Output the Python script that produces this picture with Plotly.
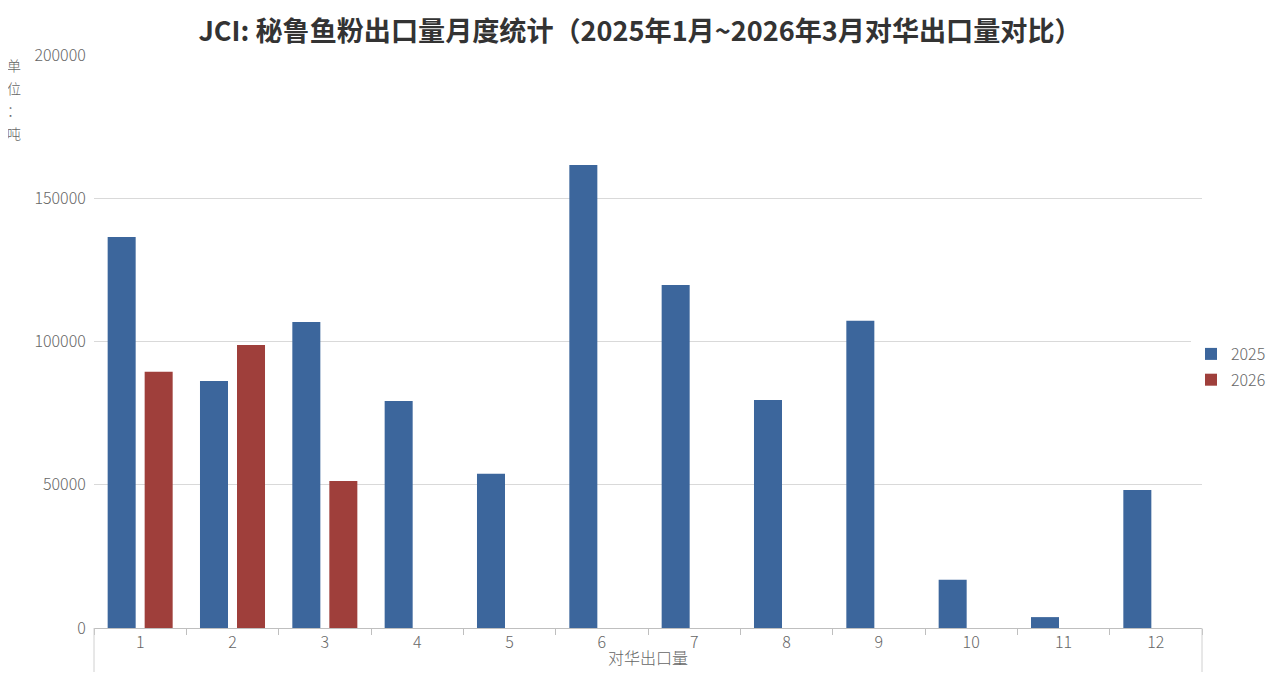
import plotly.graph_objects as go

months = ["1", "2", "3", "4", "5", "6", "7", "8", "9", "10", "11", "12"]
vals_2025 = [136500, 86200, 106800, 79200, 53800, 161600, 119700, 79600, 107200, 16800, 3800, 48200]
vals_2026 = [89400, 98800, 51300, None, None, None, None, None, None, None, None, None]
y_ticks = [0, 50000, 100000, 150000, 200000]
unit_chars = ["单", "位", "：", "吨"]

FONT = "Noto Sans CJK SC, Noto Sans, sans-serif"
W, H = 1270, 681
ML, MR, MT, MB = 86, 76, 47, 61
PW, PH = W - ML - MR, H - MT - MB
TXT = "#666666"

fig = go.Figure()
fig.add_trace(go.Bar(x=months, y=vals_2025, name="2025", legendgroup="a",
                     marker=dict(color="#3c669c", line=dict(width=0))))
fig.add_trace(go.Bar(x=months, y=vals_2026, name="2026", legendgroup="b",
                     marker=dict(color="#9f3f3b", line=dict(width=0))))

fig.update_layout(
    width=W, height=H,
    margin=dict(l=ML, r=MR, t=MT, b=MB, autoexpand=False),
    paper_bgcolor="white", plot_bgcolor="white",
    font=dict(family=FONT, color=TXT, size=16, weight=300),
    barmode="group", bargap=0.1985, bargroupgap=0.243,
    title=dict(text="<b>JCI: 秘鲁鱼粉出口量月度统计（2025年1月~2026年3月对华出口量对比）</b>",
               x=(640 - 8) / W, xanchor="center", y=1 - 24 / H, yanchor="middle",
               font=dict(size=27.1, color="#333333", family=FONT, weight=700)),
    legend=dict(x=(1191 - 94) / PW, y=1 - (367 - 55) / PH, xanchor="left", yanchor="middle",
                font=dict(size=16, color=TXT, weight=300), itemwidth=30,
                tracegroupgap=2),
    showlegend=True,
)
fig.update_xaxes(
    type="category", tickson="boundaries", ticks="outside", ticklen=6,
    tickcolor="#bfbfbf", showline=True, linecolor="#bfbfbf", linewidth=1,
    showgrid=False, tickfont=dict(size=16, color=TXT, weight=300), automargin=False,
    title=dict(text="对华出口量", font=dict(size=16, color=TXT, weight=300), standoff=0),
)
fig.update_yaxes(
    range=[0, 200000], tickvals=y_ticks, tickformat="d", automargin=False,
    showgrid=True, gridcolor="#d9d9d9", gridwidth=1, zeroline=False,
    showline=False, ticks="outside", ticklen=4, tickcolor="rgba(0,0,0,0)",
    tickfont=dict(size=16, color=TXT, weight=300),
)
# Excel-style vertical boundary lines below the category axis
for xp in (0, 1):
    fig.add_shape(type="line", xref="paper", yref="paper", x0=xp, x1=xp,
                  y0=0, y1=-44 / PH, line=dict(color="#d0d0d0", width=1))

# vertical unit label
for i, ch in enumerate(unit_chars):
    ypx = 65 + i * 22.5 - 8  # page px -> figure px
    fig.add_annotation(text=ch, xref="paper", yref="paper",
                       x=(14 - 8 - ML) / PW, y=1 - (ypx - MT) / PH,
                       xanchor="center", yanchor="middle", showarrow=False,
                       font=dict(size=14, color=TXT, family=FONT, weight=300))

fig.write_html("out.html")
